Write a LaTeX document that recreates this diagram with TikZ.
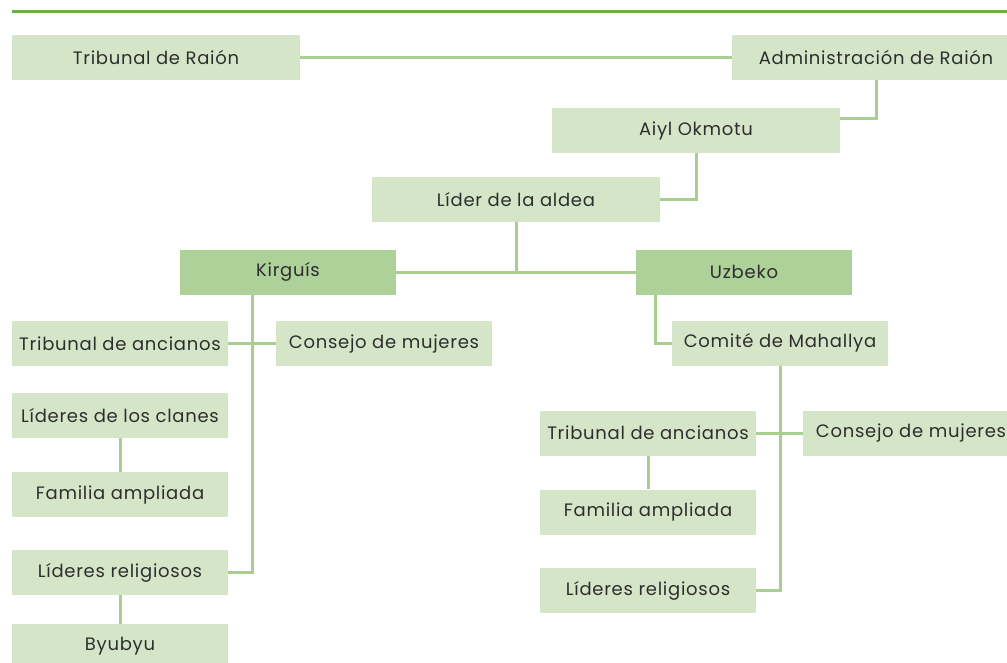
\documentclass[tikz,border=0pt]{standalone}
\usepackage{fontspec}
\setmainfont[LetterSpace=4]{Poppins}
\definecolor{boxlight}{HTML}{D5E6C8}
\definecolor{boxdark}{HTML}{AED19A}
\definecolor{conn}{HTML}{A9CF90}
\definecolor{rule}{HTML}{6AB04C}
\definecolor{txt}{HTML}{2E2E2E}
\tikzset{
  lbox/.style={fill=boxlight, draw=none, minimum height=45pt, inner sep=0pt, text=txt, font=\fontsize{18}{20}\selectfont},
  wide/.style={minimum width=288pt},
  narrow/.style={minimum width=216pt},
  dbox/.style={lbox, fill=boxdark},
  link/.style={draw=conn, line width=3pt},
}
\begin{document}
\begin{tikzpicture}[x=1pt,y=-1pt]
\useasboundingbox (0,0) rectangle (1007,662);
\draw[rule, line width=3pt] (12,11) -- (1007,11);
\node[lbox,wide] (trib) at (156,57) {Tribunal de Raión};
\node[lbox,wide] (admin) at (876,57) {Administración de Raión};
\node[lbox,wide] (aiyl) at (696,130.5) {Aiyl Okmotu};
\node[lbox,wide] (lider) at (516,199.5) {Líder de la aldea};
\node[dbox,narrow] (kir) at (288,272) {Kirguís};
\node[dbox,narrow] (uzb) at (744,272) {Uzbeko};
\node[lbox,narrow] (ta1) at (120,343.5) {Tribunal de ancianos};
\node[lbox,narrow] (cm1) at (384,343.5) {Consejo de mujeres};
\node[lbox,narrow] (cl) at (120,415.5) {Líderes de los clanes};
\node[lbox,narrow] (fa1) at (120,494.5) {Familia ampliada};
\node[lbox,narrow] (lr1) at (120,572.5) {Líderes religiosos};
\node[lbox,narrow] (by) at (120,646.5) {Byubyu};
\node[lbox,narrow] (com) at (780,343) {Comité de Mahallya};
\node[lbox,narrow] (ta2) at (648,433) {Tribunal de ancianos};
\node[lbox,narrow] (cm2) at (911,433) {Consejo de mujeres};
\node[lbox,narrow] (fa2) at (648,512) {Familia ampliada};
\node[lbox,narrow] (lr2) at (648,590.5) {Líderes religiosos};
\coordinate (y118) at (0,118);
\coordinate (kx) at (252,0);
\coordinate (ux) at (655,0);
\draw[link] (trib.east) -- (admin.west);
\draw[link] (admin.south) |- (aiyl.east |- y118);
\draw[link] (aiyl.south) |- (lider.east);
\draw[link] (lider.south) -- (lider.south |- kir.east);
\draw[link] (kir.east) -- (uzb.west);
\draw[link] (kir.south -| kx) |- (lr1.east);
\draw[link] (ta1.east) -- (cm1.west);
\draw[link] (cl.south) -- (fa1.north);
\draw[link] (lr1.south) -- (by.north);
\draw[link] (uzb.south -| ux) |- (com.west);
\draw[link] (com.south) |- (lr2.east);
\draw[link] (ta2.east) -- (cm2.west);
\draw[link] (ta2.south) -- (fa2.north);
\end{tikzpicture}
\end{document}
